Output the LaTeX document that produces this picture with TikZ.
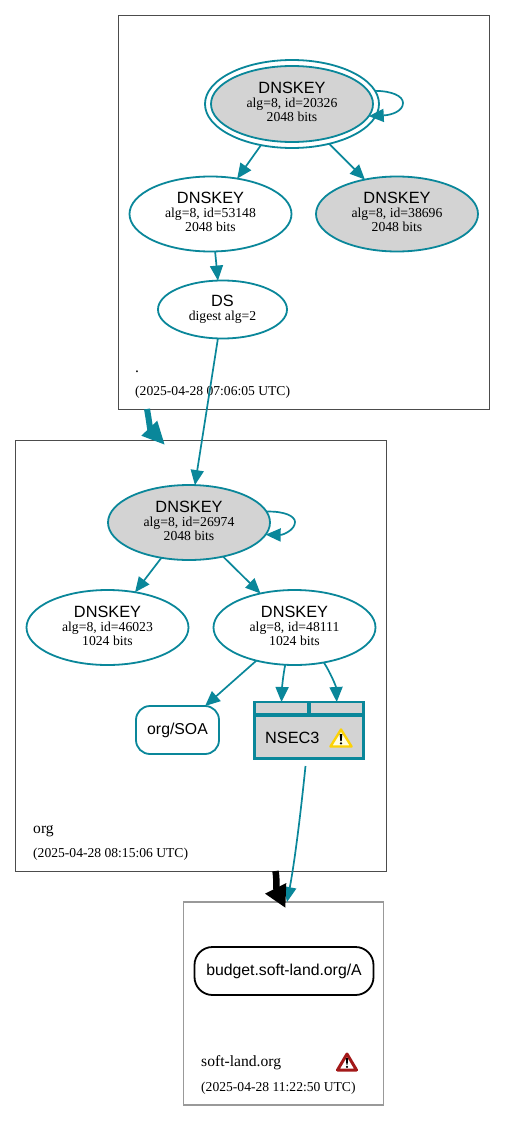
\documentclass[tikz,border=0pt]{standalone}
\usepackage{fontspec}
\setmainfont{Liberation Serif}
\newfontfamily\lblsans{Liberation Sans}
\usetikzlibrary{shapes.geometric,arrows.meta}
\definecolor{dteal}{HTML}{0A879A}
\definecolor{keygray}{HTML}{D3D3D3}
\newcommand{\bigf}{\fontsize{16.3}{14}\selectfont\lblsans}
\newcommand{\smallf}{\fontsize{13.7}{13.3}\selectfont\normalfont}
\newcommand{\keylabel}[3]{\bigf #1\\[2pt]\smallf #2\\[0.5pt]\smallf #3\rule[-4pt]{0pt}{4pt}}
\tikzset{
 zone/.style={draw=#1,rectangle,line width=1pt,inner sep=0,outer sep=0,fill=none},
 keynode/.style={ellipse,draw=dteal,line width=1.8pt,inner sep=0,outer sep=0,minimum width=162pt,minimum height=75pt,align=center,text=black},
 dsnode/.style={keynode,minimum width=129pt,minimum height=58pt},
 grayfill/.style={fill=keygray},
 rrset/.style={draw=#1,rectangle,rounded corners=14pt,line width=1.8pt,inner sep=0,outer sep=0,font=\fontsize{15.8}{18}\selectfont\lblsans},
 cell/.style={draw=dteal,fill=keygray,rectangle,line width=2.7pt,inner sep=0,outer sep=0},
 edgeline/.style={draw=dteal,line width=1.7pt,-{Triangle[length=15pt,width=13pt]}},
 zonearrowteal/.style={draw=dteal,line width=6pt,-{Triangle[length=23pt,width=20pt]}},
 zonearrowblack/.style={draw=black,line width=6.5pt,-{Triangle[length=22pt,width=22pt]}},
 zonename/.style={anchor=base west,inner sep=0,font=\fontsize{15.6}{16}\selectfont},
 zonedate/.style={anchor=base west,inner sep=0,font=\fontsize{13.6}{15}\selectfont},
}
\begin{document}
\begin{tikzpicture}[x=1pt,y=-1pt]
\useasboundingbox (0,0) rectangle (505,1121);
\fill[white] (0,0) rectangle (505,1121);
% zones
\node[zone=black!70,minimum width=371pt,minimum height=394pt] (zroot) at (304,212.5) {};
\node[zone=black!70,minimum width=371pt,minimum height=431pt] (zorg) at (201,656) {};
\node[zone=black!40,line width=1.3pt,minimum width=200pt,minimum height=203pt] (zland) at (283.5,1003.5) {};
% root keys
\node[keynode,minimum width=174pt,minimum height=88pt] (k1o) at (292,104) {};
\node[keynode,grayfill,minimum width=162pt,minimum height=76pt] (k1) at (292,104) {\keylabel{DNSKEY}{alg=8, id=20326}{2048 bits}};
\node[keynode] (k2) at (210.5,214) {\keylabel{DNSKEY}{alg=8, id=53148}{2048 bits}};
\node[keynode,grayfill] (k3) at (397,214) {\keylabel{DNSKEY}{alg=8, id=38696}{2048 bits}};
\node[dsnode] (ds) at (222.5,309.5) {\bigf DS\\[2pt]\smallf digest alg=2};
\node[zonename] (rootname) at (135,372) {.};
\node[zonedate] (rootdate) at (135,395) {(2025-04-28 07:06:05 UTC)};
% org keys
\node[keynode,grayfill] (o1) at (189,522.5) {\keylabel{DNSKEY}{alg=8, id=26974}{2048 bits}};
\node[keynode] (o2) at (107.5,627.5) {\keylabel{DNSKEY}{alg=8, id=46023}{1024 bits}};
\node[keynode] (o3) at (294.5,627.5) {\keylabel{DNSKEY}{alg=8, id=48111}{1024 bits}};
\node[rrset=dteal,minimum width=83pt,minimum height=48pt] (soa) at (177.5,730) {org/SOA};
% NSEC3
\node[cell,minimum width=108.9pt,minimum height=43.3pt] (nbody) at (309.25,737.15) {};
\node[cell,minimum width=53.4pt,minimum height=12.5pt] (cella) at (281.5,708.25) {};
\node[cell,minimum width=53.9pt,minimum height=12.5pt] (cellb) at (336.75,708.25) {};
\node[anchor=base west,inner sep=0,font=\bigf] (ntext) at (265,743) {NSEC3};
% yellow warning icon
\draw[line width=2.4pt,line join=round,draw=yellow!70!orange,fill=yellow!12] (341,729.5) -- (351.5,746.5) -- (330.5,746.5) -- cycle;
\fill[black] (339.7,734) -- (342.3,734) -- (341.7,741) -- (340.3,741) -- cycle;
\fill[black] (341,743.3) circle (1.3pt);
\node[zonename] (orgname) at (33,833) {org};
\node[zonedate] (orgdate) at (33,857) {(2025-04-28 08:15:06 UTC)};
% leaf
\node[rrset=black,rounded corners=18pt,minimum width=179pt,minimum height=48pt] (budget) at (284,971) {budget.soft-land.org/A};
\node[zonename] (landname) at (201,1066) {soft-land.org};
\node[zonedate] (landdate) at (201,1091) {(2025-04-28 11:22:50 UTC)};
% red warning icon
\draw[line width=3pt,line join=round,draw=red!60!black!90,fill=white] (347,1054) -- (356.5,1070) -- (337.5,1070) -- cycle;
\fill[black] (345.8,1058) -- (348.2,1058) -- (347.6,1064.5) -- (346.4,1064.5) -- cycle;
\fill[black] (347,1066.8) circle (1.2pt);
% free ends
\coordinate (zrootout) at (147,409);
\coordinate (zorgin) at (165,445);
\coordinate (zorgout) at (275.5,871);
\coordinate (zlandin) at (285.5,908);
\coordinate (nsecout) at (305.5,766);
\coordinate (landtop) at (287,902);
% edges
\draw[edgeline] (k1o.9) .. controls (392,91) and (403,96) .. (403,103) .. controls (403,111) and (392,115) .. (k1.-9);
\draw[edgeline] (k1o.233) -- (k2.53);
\draw[edgeline] (k1o.-47) -- (k3.133);
\draw[edgeline] (k2.-83) -- (ds.99);
\draw[edgeline] (ds.-99) -- (o1.81);
\draw[edgeline] (o1.8) .. controls (284,511) and (295,516) .. (295,522) .. controls (295,530) and (283,535) .. (o1.-9);
\draw[edgeline] (o1.232) -- (o2.52);
\draw[edgeline] (o1.-45) -- (o3.135);
\draw[edgeline] (o3.221) -- (soa.41);
\draw[edgeline] (o3.256) .. controls (283,676) and (282,688) .. (cella.north);
\draw[edgeline] (o3.-50) .. controls (330,672) and (336,686) .. (cellb.north);
\draw[edgeline] (nsecout) .. controls (301,810) and (295,860) .. (landtop);
\draw[zonearrowteal] (zrootout) .. controls (149,420) and (150,429) .. (zorgin);
\draw[zonearrowblack] (zorgout) .. controls (277,880) and (276,889) .. (zlandin);
\end{tikzpicture}
\end{document}
